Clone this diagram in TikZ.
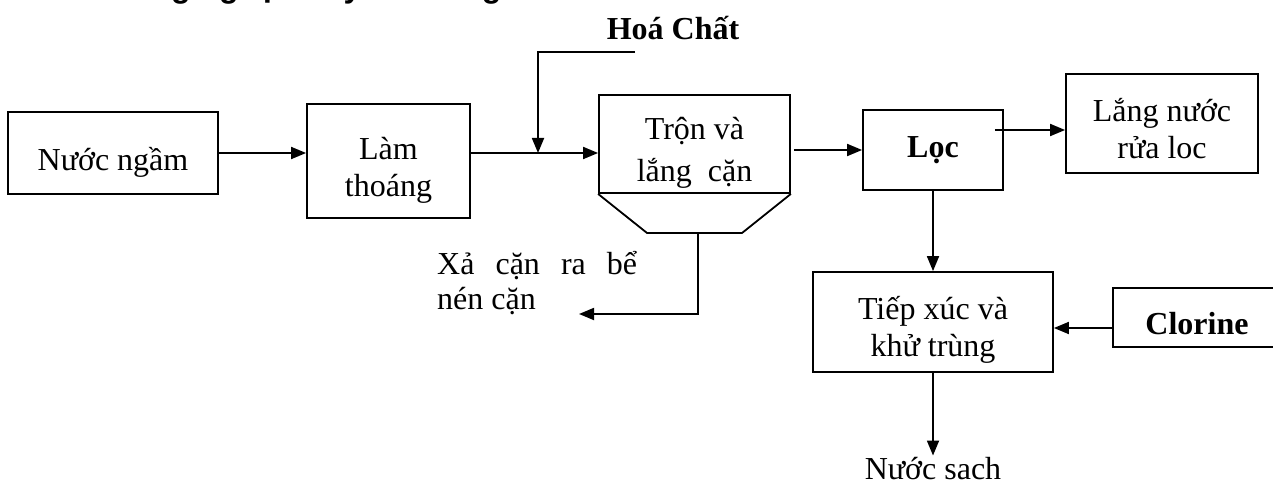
\documentclass[tikz,border=0pt]{standalone}
\usepackage{fontspec}
\setmainfont{Liberation Serif}
\newfontfamily\hdfont{Liberation Sans}
\usetikzlibrary{arrows.meta,calc}
\begin{document}
\begin{tikzpicture}[x=1pt,y=-1pt,
  txt/.style={inner sep=0pt,align=center,font=\fontsize{32}{37}\selectfont},
  btxt/.style={txt,font=\fontsize{32}{37}\selectfont\bfseries},
  box/.style={draw,line width=1.8pt,inner sep=0pt},
  ln/.style={line width=1.8pt},
  arr/.style={line width=1.8pt,-{Triangle[length=15pt,width=12pt]}}]
\useasboundingbox (0,0) rectangle (1273,489);
% heading (cut off at the top)
\node[anchor=base west,inner sep=0pt,font=\hdfont\bfseries\fontsize{32}{36}\selectfont] (hd) at (13,-2) {Sơ đồ công nghệ xử lý nước ngầm};
% boxes
\node[box,minimum width=210pt,minimum height=82pt,label={[txt,yshift=-9pt]center:{Nước ngầm}}] (nn) at (113,153) {};
\node[box,minimum width=163pt,minimum height=114pt,label={[txt,yshift=-9pt]center:{Làm\\thoáng}}] (lt) at (388.5,161) {};
\node[box,minimum width=191pt,minimum height=98pt,label={[txt,yshift=-9pt]center:{Trộn và\\[5pt]lắng\ \ cặn}}] (tr) at (694.5,144) {};
\node[box,minimum width=140pt,minimum height=80pt,label={[btxt]center:{Lọc}}] (loc) at (933,150) {};
\node[box,minimum width=192pt,minimum height=99pt,label={[txt,yshift=-5pt]center:{Lắng nước\\rửa loc}}] (lr) at (1162,123.5) {};
\node[box,minimum width=240pt,minimum height=100pt,label={[txt,yshift=-8pt]center:{Tiếp xúc và\\khử trùng}}] (tx) at (933,322) {};
\node[box,minimum width=180pt,minimum height=59pt,label={[btxt,yshift=-6pt]center:{Clorine\hspace*{12pt}}}] (cl) at (1203,317.5) {};
% labels
\node[btxt] (hc) at (673,28) {Hoá Chất};
\node[txt,align=left,anchor=west,font=\fontsize{32}{35}\selectfont] (xa) at (437,283) {\makebox[200pt][s]{Xả cặn ra bể}\\nén cặn};
\node[txt] (ns) at (933,469) {Nước sach};
% hopper under the mixing tank
\coordinate (hl) at (647,233);
\coordinate (hr) at (742,233);
\draw[ln,line join=round] (tr.south west) -- (hl) -- (hr) -- (tr.south east);
\coordinate (hb) at (698,233);
\coordinate (xe) at (579,314);
\draw[arr] (hb) |- (xe);
% connectors
\coordinate (j) at (538,153);
\coordinate (hcR) at (635,52);
\draw[arr] (nn.east) -- (nn.east -| lt.west);
\draw[arr] (j -| lt.east) -- (j -| tr.west);
\draw[arr] (hcR) -| (j);
\draw[arr] ([xshift=3pt]tr.east |- loc.west) -- (loc.west);
\draw[arr] ([xshift=-9pt,yshift=20pt]loc.east) -- ([yshift=-6.5pt]lr.west);
\draw[arr] (loc.south) -- (loc.south |- tx.north);
\draw[arr] ([yshift=-10.5pt]cl.west) -- ([yshift=-10.5pt]cl.west -| tx.east);
\draw[arr] (tx.south) -- ([yshift=2pt]tx.south |- ns.north);
\end{tikzpicture}
\end{document}
